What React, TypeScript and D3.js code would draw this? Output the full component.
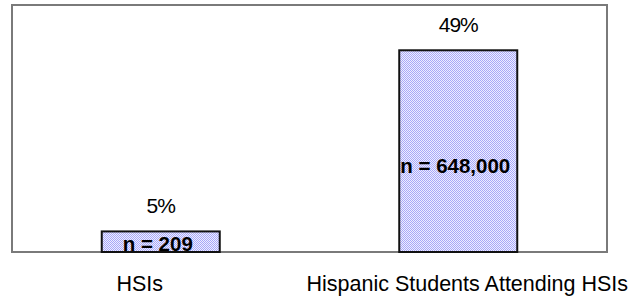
import React, { useEffect } from 'react';
import * as d3 from 'd3';

// chart values
const categories = ['HSIs', 'Hispanic Students Attending HSIs'];
const percents = [5, 49];
const counts = ['n = 209', 'n = 648,000'];

const W = 641;
const H = 297;
const frame = { left: 12, right: 607, top: 5, bottom: 252 };
const catShift = [-21, 9]; // category labels sit a bit off-centre in the original

function App(): JSX.Element {
  useEffect(() => {
    document.body.style.margin = '0';
  }, []);

  const x = d3.scalePoint<string>()
    .domain(categories)
    .range([frame.left, frame.right])
    .padding(0.5);

  const y = d3.scaleLinear()
    .domain([0, 60])
    .range([frame.bottom, frame.top]);

  const barW = 118;
  const font = 'Arial, "Liberation Sans", sans-serif';

  return (
    <svg width={W} height={H} style={{ display: 'block', background: '#fff' }}>
      <defs>
        <pattern id="dots" width={2} height={2} patternUnits="userSpaceOnUse">
          <rect width={2} height={2} fill="#eeeeff" />
          <rect width={1} height={1} fill="#a8a8f8" />
          <rect x={1} y={1} width={1} height={1} fill="#a8a8f8" />
        </pattern>
      </defs>

      {/* plot frame */}
      <rect
        x={frame.left}
        y={frame.top}
        width={frame.right - frame.left}
        height={frame.bottom - frame.top}
        fill="none"
        stroke="#7a7a7a"
        strokeWidth={2}
      />

      {categories.map((c, i) => {
        const cx = x(c) as number;
        const v = percents[i];
        return (
          <g key={c}>
            <rect
              x={cx - barW / 2}
              y={y(v)}
              width={barW}
              height={y(0) - y(v)}
              fill="url(#dots)"
              stroke="#111"
              strokeWidth={2}
            />
            <text
              x={cx}
              y={y(v) - 18}
              textAnchor="middle"
              fontFamily={font}
              fontSize={21}
              letterSpacing={-1}
              fill="#000"
            >
              {v}%
            </text>
            <text
              x={cx - 3}
              y={y(v * 0.43)}
              dominantBaseline="central"
              textAnchor="middle"
              fontFamily={font}
              fontSize={20.5}
              fontWeight="bold"
              fill="#000"
            >
              {counts[i]}
            </text>
            <text
              x={cx + catShift[i]}
              y={291}
              textAnchor="middle"
              fontFamily={font}
              fontSize={21.5}
              fill="#000"
            >
              {c}
            </text>
          </g>
        );
      })}
    </svg>
  );
}

export default App;
